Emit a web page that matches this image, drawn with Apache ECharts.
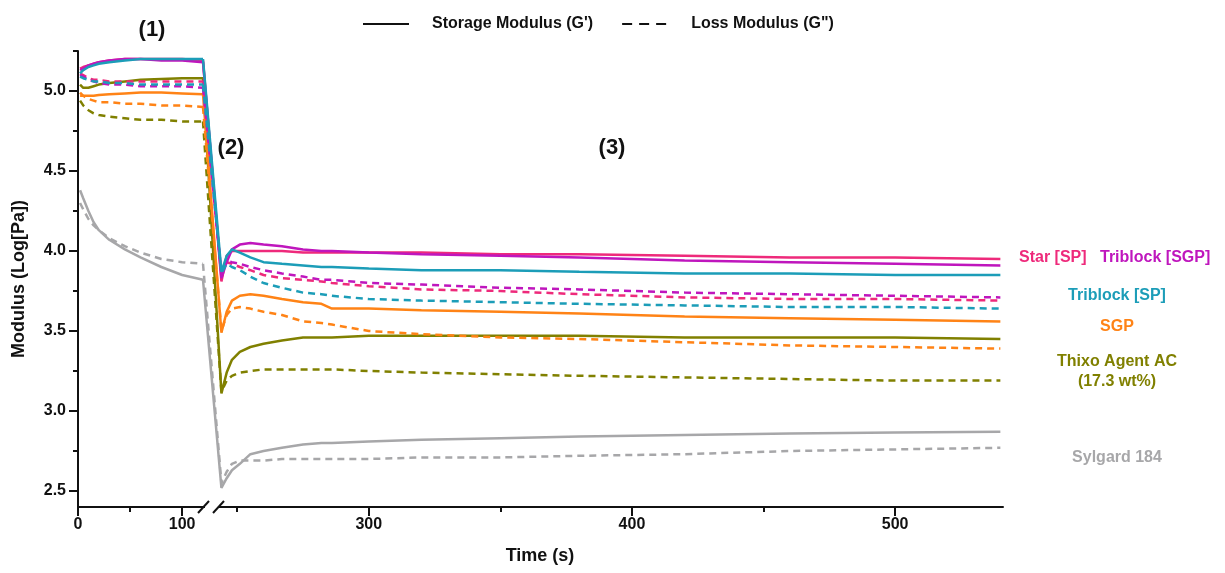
<!DOCTYPE html>
<html>
<head>
<meta charset="utf-8">
<script src="https://cdn.jsdelivr.net/npm/echarts@6/dist/echarts.min.js"></script>
<style>
  html, body { margin: 0; padding: 0; background: #fff; }
  #chart { width: 1225px; height: 573px; }
</style>
</head>
<body>
<div id="chart"></div>
<script>
// step (1): low strain, 0-120 s
const leftTime = [2, 5, 10, 15, 20, 30, 45, 60, 80, 100, 120]
// step (3): recovery, first point sits at the axis break
const rightTime = [237, 244, 246, 248, 251, 255, 260, 267, 275, 282, 286, 300, 320, 350, 380, 420, 460, 500, 540]

const yMajorTicks = [2.5, 3.0, 3.5, 4.0, 4.5, 5.0]
const yMinorTicks = [2.75, 3.25, 3.75, 4.25, 4.75, 5.25]
const xLeftMajor = [0, 100]
const xLeftMinor = [50]
const xRightMajor = [300, 400, 500]
const xRightMinor = [250, 350, 450]

// Star [SP]
const starStorage1 = [5.14, 5.15, 5.16, 5.17, 5.18, 5.19, 5.20, 5.20, 5.20, 5.20, 5.19]
const starLoss1 = [5.11, 5.10, 5.08, 5.07, 5.07, 5.06, 5.06, 5.06, 5.06, 5.06, 5.06]
const starStorage3 = [5.19, 3.81, 3.97, 4.00, 4.00, 4.00, 4.00, 4.00, 3.99, 3.99, 3.99, 3.99, 3.99, 3.98, 3.98, 3.97, 3.96, 3.96, 3.95]
const starLoss3 = [5.06, 3.86, 3.93, 3.92, 3.90, 3.88, 3.85, 3.83, 3.82, 3.81, 3.80, 3.78, 3.76, 3.75, 3.73, 3.71, 3.70, 3.70, 3.69]

// Triblock [SGP]
const triSgpStorage1 = [5.13, 5.14, 5.16, 5.17, 5.18, 5.19, 5.20, 5.20, 5.19, 5.19, 5.18]
const triSgpLoss1 = [5.10, 5.09, 5.07, 5.06, 5.05, 5.04, 5.04, 5.03, 5.03, 5.03, 5.02]
const triSgpStorage3 = [5.18, 3.83, 3.93, 4.01, 4.04, 4.05, 4.04, 4.03, 4.01, 4.00, 4.00, 3.99, 3.98, 3.97, 3.96, 3.94, 3.93, 3.92, 3.91]
const triSgpLoss3 = [5.02, 3.86, 3.94, 3.93, 3.92, 3.90, 3.88, 3.86, 3.84, 3.82, 3.82, 3.80, 3.79, 3.77, 3.76, 3.74, 3.73, 3.72, 3.71]

// Triblock [SP]
const triSpStorage1 = [5.11, 5.13, 5.15, 5.16, 5.17, 5.18, 5.19, 5.20, 5.20, 5.20, 5.20]
const triSpLoss1 = [5.09, 5.08, 5.07, 5.06, 5.06, 5.05, 5.05, 5.04, 5.04, 5.04, 5.04]
const triSpStorage3 = [5.20, 3.87, 3.97, 4.01, 3.99, 3.96, 3.93, 3.92, 3.91, 3.90, 3.90, 3.89, 3.88, 3.88, 3.87, 3.86, 3.86, 3.85, 3.85]
const triSpLoss3 = [5.04, 3.86, 3.92, 3.90, 3.88, 3.84, 3.80, 3.77, 3.74, 3.73, 3.72, 3.70, 3.69, 3.68, 3.67, 3.66, 3.65, 3.65, 3.64]

// SGP
const sgpStorage1 = [4.97, 4.97, 4.97, 4.97, 4.975, 4.98, 4.985, 4.99, 4.99, 4.985, 4.98]
const sgpLoss1 = [4.99, 4.97, 4.95, 4.94, 4.93, 4.93, 4.92, 4.92, 4.91, 4.91, 4.90]
const sgpStorage3 = [4.98, 3.49, 3.62, 3.69, 3.72, 3.73, 3.72, 3.70, 3.68, 3.67, 3.64, 3.64, 3.63, 3.62, 3.61, 3.59, 3.58, 3.57, 3.56]
const sgpLoss3 = [4.90, 3.50, 3.60, 3.64, 3.65, 3.64, 3.62, 3.60, 3.56, 3.55, 3.54, 3.50, 3.48, 3.46, 3.45, 3.43, 3.41, 3.40, 3.39]

// Thixo Agent AC (17.3 wt%)
const thixoStorage1 = [5.04, 5.02, 5.02, 5.03, 5.04, 5.05, 5.06, 5.07, 5.075, 5.08, 5.08]
const thixoLoss1 = [4.94, 4.91, 4.88, 4.86, 4.85, 4.84, 4.83, 4.82, 4.82, 4.81, 4.81]
const thixoStorage3 = [5.08, 3.11, 3.24, 3.32, 3.37, 3.40, 3.42, 3.44, 3.46, 3.46, 3.46, 3.47, 3.47, 3.47, 3.47, 3.46, 3.46, 3.46, 3.45]
const thixoLoss3 = [4.81, 3.12, 3.19, 3.22, 3.24, 3.25, 3.26, 3.26, 3.26, 3.26, 3.26, 3.25, 3.24, 3.23, 3.22, 3.21, 3.20, 3.19, 3.19]

// Sylgard 184
const sylgardStorage1 = [4.38, 4.33, 4.25, 4.18, 4.13, 4.07, 4.01, 3.96, 3.90, 3.85, 3.82]
const sylgardLoss1 = [4.30, 4.26, 4.20, 4.16, 4.13, 4.08, 4.03, 3.99, 3.95, 3.93, 3.92]
const sylgardStorage3 = [3.82, 2.52, 2.58, 2.63, 2.67, 2.73, 2.75, 2.77, 2.79, 2.80, 2.80, 2.81, 2.82, 2.83, 2.84, 2.85, 2.86, 2.865, 2.87]
const sylgardLoss3 = [3.92, 2.55, 2.62, 2.67, 2.69, 2.69, 2.69, 2.70, 2.70, 2.70, 2.70, 2.70, 2.71, 2.71, 2.72, 2.73, 2.75, 2.76, 2.77]

const materials = [
  { name: 'Sylgard 184', color: '#a7a7a9', s1: sylgardStorage1, l1: sylgardLoss1, s3: sylgardStorage3, l3: sylgardLoss3 },
  { name: 'Thixo Agent AC', color: '#808000', s1: thixoStorage1, l1: thixoLoss1, s3: thixoStorage3, l3: thixoLoss3 },
  { name: 'SGP', color: '#ff8316', s1: sgpStorage1, l1: sgpLoss1, s3: sgpStorage3, l3: sgpLoss3 },
  { name: 'Star [SP]', color: '#ee2a7b', s1: starStorage1, l1: starLoss1, s3: starStorage3, l3: starLoss3 },
  { name: 'Triblock [SGP]', color: '#bf16bd', s1: triSgpStorage1, l1: triSgpLoss1, s3: triSgpStorage3, l3: triSgpLoss3 },
  { name: 'Triblock [SP]', color: '#1c9db8', s1: triSpStorage1, l1: triSpLoss1, s3: triSpStorage3, l3: triSpLoss3 },
]

const FONT = '"Liberation Sans", Arial, sans-serif'
const AXIS_COLOR = '#111'
const Y_MIN = 2.4
const Y_MAX = 5.25

function pair(xs, ys) {
  return xs.map((x, i) => [x, ys[i]])
}

function lineSeries(name, color, dashed, xIdx, data) {
  return {
    name,
    type: 'line',
    xAxisIndex: xIdx,
    yAxisIndex: xIdx === 0 ? 0 : 2,
    data,
    symbol: 'none',
    silent: true,
    lineStyle: { color, width: 2.5, type: dashed ? [7, 5] : 'solid' },
    itemStyle: { color },
  }
}

const series = []
materials.forEach((m) => {
  series.push(lineSeries(m.name + " G''", m.color, true, 0, pair(leftTime, m.l1)))
  series.push(lineSeries(m.name + " G''", m.color, true, 1, pair(rightTime, m.l3)))
  series.push(lineSeries(m.name + " G'", m.color, false, 0, pair(leftTime, m.s1)))
  series.push(lineSeries(m.name + " G'", m.color, false, 1, pair(rightTime, m.s3)))
})

// legend-only series
series.push({
  name: "Storage Modulus (G')", type: 'line', data: [], symbol: 'none',
  lineStyle: { color: AXIS_COLOR, width: 3, type: 'solid' }, itemStyle: { color: AXIS_COLOR },
})
series.push({
  name: 'Loss Modulus (G")', type: 'line', data: [], symbol: 'none',
  lineStyle: { color: AXIS_COLOR, width: 3, type: [10, 7] }, itemStyle: { color: AXIS_COLOR },
})

const tickLabel = { color: AXIS_COLOR, fontFamily: FONT, fontWeight: 'bold', fontSize: 16 }

function xAxisDef(gridIndex, min, max, ticks, labels, len, extra) {
  return Object.assign({
    type: 'value',
    gridIndex,
    position: 'bottom',
    min,
    max,
    splitLine: { show: false },
    axisLine: { show: true, onZero: false, lineStyle: { color: AXIS_COLOR, width: 2 } },
    axisTick: { show: true, length: len, lineStyle: { color: AXIS_COLOR, width: 2 }, customValues: ticks },
    axisLabel: labels
      ? Object.assign({ show: true, margin: 10, customValues: labels }, tickLabel)
      : { show: false },
  }, extra || {})
}

const chart = echarts.init(document.getElementById('chart'), null, { renderer: 'canvas' })

const labelStyle = (color) => ({ fontFamily: FONT, fontWeight: 'bold', fontSize: 16, fill: color })

chart.setOption({
  animation: false,
  backgroundColor: '#fff',
  legend: {
    data: ["Storage Modulus (G')", 'Loss Modulus (G")'],
    left: 357,
    top: 11,
    itemWidth: 46,
    itemHeight: 14,
    itemGap: 28,
    selectedMode: false,
    itemStyle: { opacity: 0 },
    textStyle: { color: AXIS_COLOR, fontFamily: FONT, fontWeight: 'bold', fontSize: 16, padding: [0, 0, 0, 18] },
  },
  grid: [
    { left: 78, width: 125, top: 51, height: 456 },
    { left: 203, width: 800, top: 51, height: 456 },
  ],
  xAxis: [
    xAxisDef(0, 0, 120, xLeftMajor, xLeftMajor, 9),
    xAxisDef(1, 237, 541, xRightMajor, xRightMajor, 9, {
      name: 'Time (s)',
      nameLocation: 'middle',
      nameGap: 40,
      nameTextStyle: { color: AXIS_COLOR, fontFamily: FONT, fontWeight: 'bold', fontSize: 18, padding: [0, 126, 0, 0] },
    }),
    xAxisDef(0, 0, 120, xLeftMinor, null, 5, { axisLine: { show: false, onZero: false } }),
    xAxisDef(1, 237, 541, xRightMinor, null, 5, { axisLine: { show: false, onZero: false } }),
  ],
  yAxis: [
    {
      type: 'value',
      gridIndex: 0,
      min: Y_MIN,
      max: Y_MAX,
      name: 'Modulus (Log[Pa])',
      nameLocation: 'middle',
      nameGap: 50,
      nameTextStyle: { color: AXIS_COLOR, fontFamily: FONT, fontWeight: 'bold', fontSize: 18 },
      splitLine: { show: false },
      axisLine: { show: true, onZero: false, lineStyle: { color: AXIS_COLOR, width: 2 } },
      axisTick: { show: true, length: 9, lineStyle: { color: AXIS_COLOR, width: 2 }, customValues: yMajorTicks },
      axisLabel: Object.assign({ margin: 12, customValues: yMajorTicks, formatter: (v) => v.toFixed(1) }, tickLabel),
    },
    {
      type: 'value',
      gridIndex: 0,
      position: 'left',
      min: Y_MIN,
      max: Y_MAX,
      splitLine: { show: false },
      axisLine: { show: false, onZero: false },
      axisTick: { show: true, length: 5, lineStyle: { color: AXIS_COLOR, width: 2 }, customValues: yMinorTicks },
      axisLabel: { show: false },
    },
    {
      type: 'value',
      gridIndex: 1,
      min: Y_MIN,
      max: Y_MAX,
      show: false,
    },
  ],
  series,
  graphic: [
    // axis break marks
    { type: 'rect', shape: { x: 205, y: 502, width: 13, height: 10 }, style: { fill: '#fff' }, z: 100 },
    { type: 'line', shape: { x1: 198, y1: 513, x2: 209, y2: 501 }, style: { stroke: AXIS_COLOR, lineWidth: 2 }, z: 101 },
    { type: 'line', shape: { x1: 213, y1: 513, x2: 224, y2: 501 }, style: { stroke: AXIS_COLOR, lineWidth: 2 }, z: 101 },
    // step labels
    { type: 'text', x: 152, y: 30, style: { text: '(1)', fontFamily: FONT, fontWeight: 'bold', fontSize: 22, fill: AXIS_COLOR, align: 'center', verticalAlign: 'middle' } },
    { type: 'text', x: 231, y: 148, style: { text: '(2)', fontFamily: FONT, fontWeight: 'bold', fontSize: 22, fill: AXIS_COLOR, align: 'center', verticalAlign: 'middle' } },
    { type: 'text', x: 612, y: 148, style: { text: '(3)', fontFamily: FONT, fontWeight: 'bold', fontSize: 22, fill: AXIS_COLOR, align: 'center', verticalAlign: 'middle' } },
    // series labels
    { type: 'text', x: 1019, y: 258, style: Object.assign({ text: 'Star [SP]', verticalAlign: 'middle' }, labelStyle('#ee2a7b')) },
    { type: 'text', x: 1100, y: 258, style: Object.assign({ text: 'Triblock [SGP]', verticalAlign: 'middle' }, labelStyle('#bf16bd')) },
    { type: 'text', x: 1117, y: 296, style: Object.assign({ text: 'Triblock [SP]', align: 'center', verticalAlign: 'middle' }, labelStyle('#1c9db8')) },
    { type: 'text', x: 1117, y: 327, style: Object.assign({ text: 'SGP', align: 'center', verticalAlign: 'middle' }, labelStyle('#ff8316')) },
    { type: 'text', x: 1117, y: 362, style: Object.assign({ text: 'Thixo Agent AC', align: 'center', verticalAlign: 'middle' }, labelStyle('#808000')) },
    { type: 'text', x: 1117, y: 382, style: Object.assign({ text: '(17.3 wt%)', align: 'center', verticalAlign: 'middle' }, labelStyle('#808000')) },
    { type: 'text', x: 1117, y: 458, style: Object.assign({ text: 'Sylgard 184', align: 'center', verticalAlign: 'middle' }, labelStyle('#a7a7a9')) },
  ],
})
</script>
</body>
</html>
